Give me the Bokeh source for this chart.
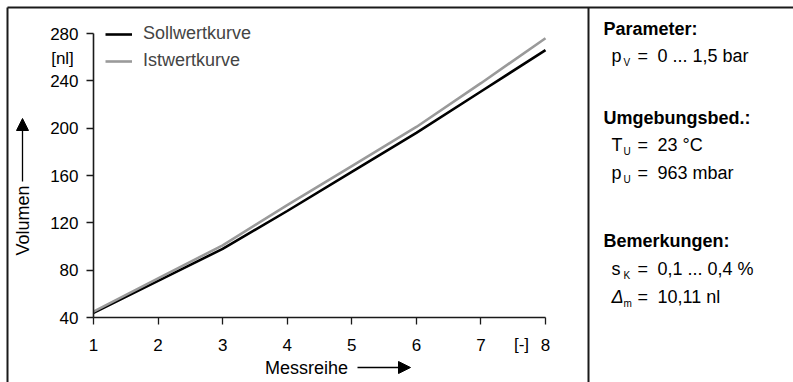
import math
from bokeh.plotting import figure
from bokeh.models import FixedTicker, Arrow, NormalHead, Legend, LegendItem
from bokeh.core.properties import value
from bokeh.embed import file_html
from bokeh.resources import INLINE

# ---- data ----
messreihe = [1, 2, 3, 4, 5, 6, 7, 8]
sollwert = [44, 71, 98, 130, 163, 196, 231, 266]
istwert = [45, 73, 101, 135, 168, 201, 238, 276]
x_ticks = [1, 2, 3, 4, 5, 6, 7, 8]
y_ticks = [40, 80, 120, 160, 200, 240, 280]
series_names = ["Sollwertkurve", "Istwertkurve"]
x_title = "Messreihe"
y_title = "Volumen"
x_unit = "[-]"
y_unit = "[nl]"
panel_headers = ["Parameter:", "Umgebungsbed.:", "Bemerkungen:"]
panel_symbols = ["p", "T", "p", "s", "Δ"]
panel_subs = ["V", "U", "U", "K", "m"]
panel_values = ["0 ... 1,5 bar", "23 °C", "963 mbar", "0,1 ... 0,4 %", "10,11 nl"]

# ---- layout (pixels) ----
W, H = 793, 382
FL, FR, FT, FB = 93, 545, 33, 317          # plot area in pixels
X0, X1 = 1, 8
Y0, Y1 = 40, 280
FONT = "Liberation Sans"
INK = "#1a1a1a"
TXT = "18px"


def dx(px):
    return X0 + (px - FL) * (X1 - X0) / (FR - FL)


def dy(py):
    return Y0 + (FB - py) * (Y1 - Y0) / (FB - FT)


p = figure(width=W, height=H, x_range=(dx(0), dx(W)), y_range=(dy(H), dy(0)),
           output_backend="svg", toolbar_location=None, min_border=0)
p.outline_line_color = None
p.xgrid.visible = False
p.ygrid.visible = False
p.background_fill_color = "white"
p.border_fill_color = "white"

xa, ya = p.xaxis[0], p.yaxis[0]
xa.fixed_location = Y0
ya.fixed_location = X0
xa.bounds = (X0, X1)
ya.bounds = (Y0, Y1)
for ax in (xa, ya):
    ax.axis_line_color = INK
    ax.axis_line_width = 1.6
    ax.major_tick_line_color = INK
    ax.major_tick_line_width = 1.3
    ax.major_tick_out = 7
    ax.major_tick_in = 0
    ax.minor_tick_out = 0
    ax.minor_tick_in = 0
    ax.major_label_text_font = FONT
    ax.major_label_text_font_size = "17px"
    ax.major_label_text_color = "black"
xa.ticker = FixedTicker(ticks=x_ticks)
ya.ticker = FixedTicker(ticks=y_ticks)
xa.major_label_standoff = 14
ya.major_label_standoff = 8

r_soll = p.line(messreihe, sollwert, line_color="black", line_width=2.6)
r_ist = p.line(messreihe, istwert, line_color="#9a9a9a", line_width=2.6)

legend = Legend(items=[LegendItem(label=series_names[0], renderers=[r_soll]),
                       LegendItem(label=series_names[1], renderers=[r_ist])],
                location=(105, H - 71), orientation="vertical",
                glyph_width=27, glyph_height=20, label_height=20,
                label_standoff=11, spacing=6, padding=0, margin=0,
                border_line_color=None, background_fill_alpha=0,
                label_text_font=FONT, label_text_font_size=TXT)
p.add_layout(legend)


def label(px, py, text, size=TXT, align="left", style="normal", angle=0.0):
    p.text(x=[dx(px)], y=[dy(py)], text=[text], text_font=value(FONT),
           text_font_size=size, text_align=align, text_baseline="middle",
           text_font_style=style, text_color="black", angle=angle)


def seg(px0, py0, px1, py1, width=2.0):
    p.segment(x0=[dx(px0)], y0=[dy(py0)], x1=[dx(px1)], y1=[dy(py1)],
              line_color=INK, line_width=width)


def arrow(px0, py0, px1, py1):
    p.add_layout(Arrow(x_start=dx(px0), y_start=dy(py0), x_end=dx(px1), y_end=dy(py1),
                       line_color="black", line_width=1.3,
                       end=NormalHead(size=12, fill_color="black", line_color="black",
                                      line_width=1)))


# outer frame and divider
seg(7, 7, W, 7)
seg(7, 7, 7, H)
seg(588, 7, 588, H)

# axis titles with arrows
label(306, 367, x_title, align="center")
arrow(357, 367, 410, 367)
label(22, 220, y_title, align="center", angle=math.pi / 2)
arrow(22, 181, 22, 118)
label(521, 344, x_unit, size="17px", align="center")
label(62, 58, y_unit, size="17px", align="center")

# right panel
label(603, 28, panel_headers[0], style="bold")
label(603, 117, panel_headers[1], style="bold")
label(603, 240, panel_headers[2], style="bold")
rows_y = [55, 144, 172, 268, 296]
for i, ry in enumerate(rows_y):
    label(611, ry, panel_symbols[i], style="italic" if panel_symbols[i] == "Δ" else "normal")
    label(623, ry + 7, panel_subs[i], size="10px")
    label(637, ry, "=")
    label(657, ry, panel_values[i])

open("out.html", "w").write(file_html(p, INLINE))
